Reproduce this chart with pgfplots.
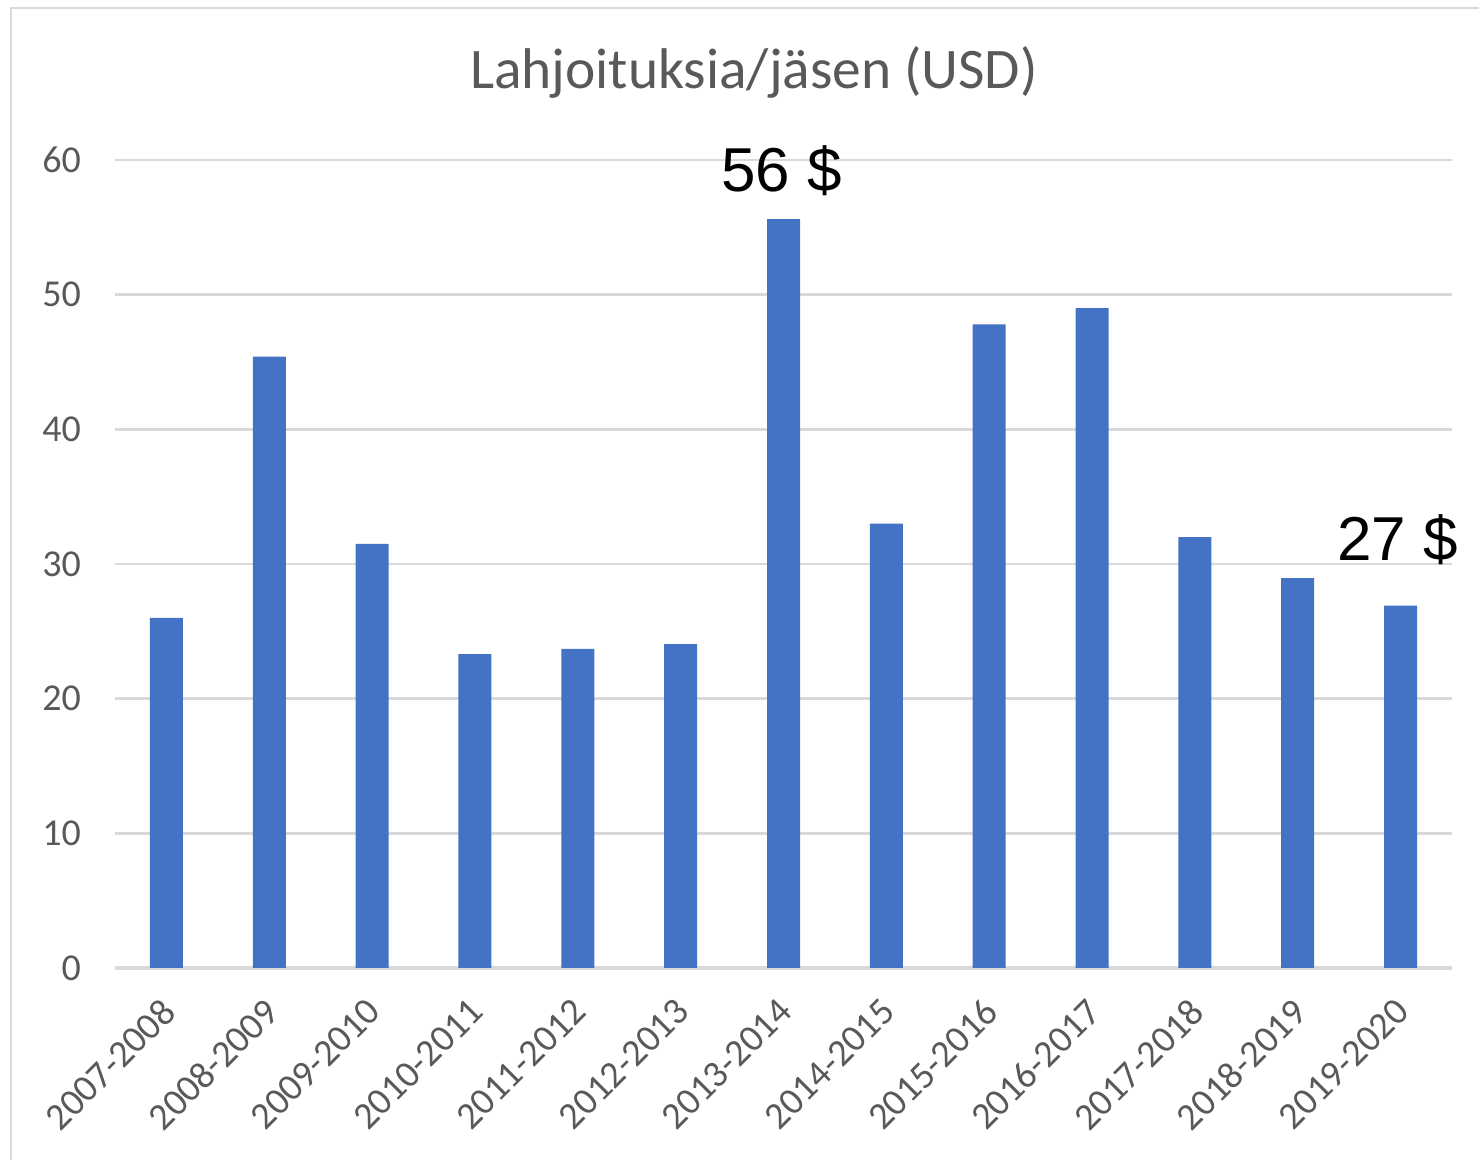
\documentclass[border=0pt]{standalone}
\usepackage{pgfplots}
\pgfplotsset{compat=1.18}
\usepackage{fontspec}
\setmainfont{Carlito}
\newfontfamily\arialf{Liberation Sans}
\definecolor{barblue}{HTML}{4472C4}
\definecolor{txtgray}{HTML}{595959}
\definecolor{gridgray}{HTML}{D9D9D9}
\begin{document}
\begin{tikzpicture}
\useasboundingbox (0pt,0pt) rectangle (739.5pt,580pt);
\draw[gridgray, line width=1.2pt] (5.5pt,0pt) -- (5.5pt,576pt) -- (739.5pt,576pt);
\node[font=\fontsize{28.7}{33}\selectfont, text=txtgray] at (377pt,544pt) {Lahjoituksia/jäsen (USD)};
\begin{axis}[
  at={(57.5pt,96pt)}, anchor=south west,
  width=668.5pt, height=404pt, scale only axis,
  xmin=-0.5, xmax=12.5, ymin=0, ymax=60,
  ytick={0,10,...,60},
  xtick=data,
  xticklabels={2007-2008,2008-2009,2009-2010,2010-2011,2011-2012,2012-2013,2013-2014,2014-2015,2015-2016,2016-2017,2017-2018,2018-2019,2019-2020},
  ymajorgrids,
  grid style={draw=gridgray, line width=1.3pt},
  axis x line*=bottom, axis y line*=left,
  x axis line style={draw=gridgray, line width=1.8pt, -},
  y axis line style={draw=none},
  major tick length=0pt,
  tick label style={font=\fontsize{19}{22}\selectfont, text=txtgray},
  /pgf/number format/assume math mode=true,
  yticklabel style={xshift=-13.5pt},
  xticklabel style={yshift=-14pt, xshift=-3.5pt, rotate=45, anchor=north east, inner sep=0pt},
  ybar, bar width=16.5pt,
  clip=false,
]
\addplot[fill=barblue, draw=none] coordinates {
(0,26.0) (1,45.4) (2,31.5) (3,23.3) (4,23.7) (5,24.05) (6,55.6) (7,33.0) (8,47.8) (9,49.0) (10,32.0) (11,28.95) (12,26.9)};
\node[font=\arialf\fontsize{31}{36}\selectfont] at (axis cs:5.98,59.2) {56 \$};
\node[font=\arialf\fontsize{31}{36}\selectfont] at (axis cs:11.97,31.8) {27 \$};
\end{axis}
\end{tikzpicture}
\end{document}
